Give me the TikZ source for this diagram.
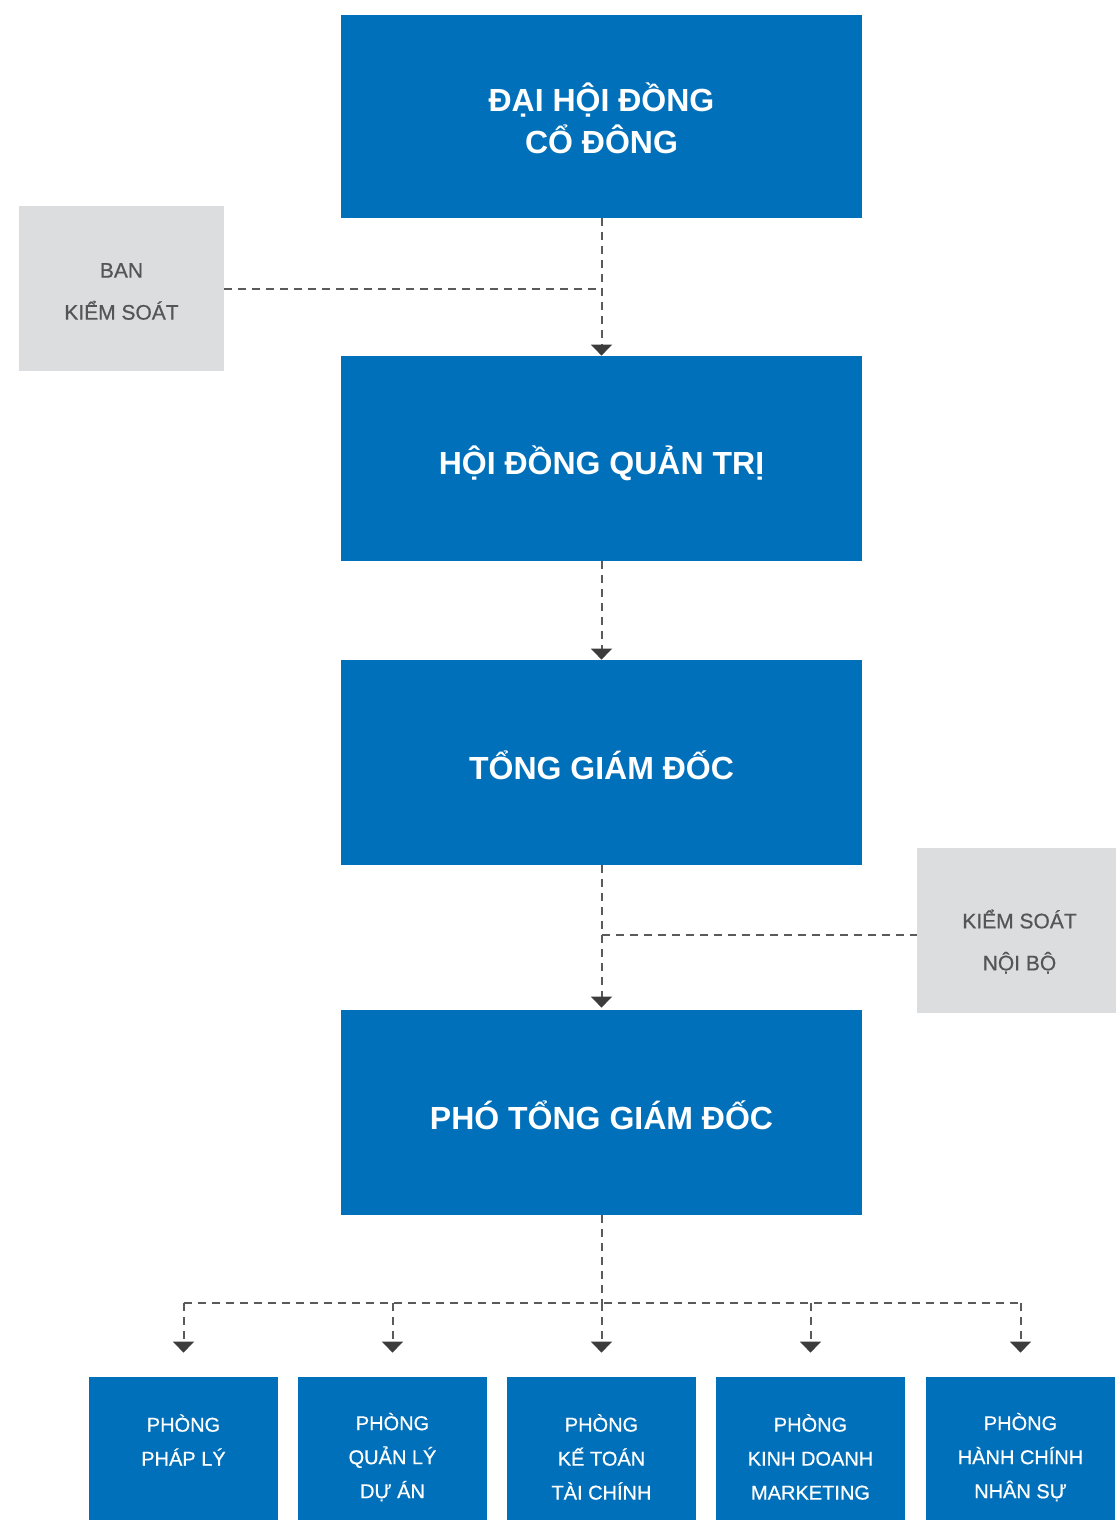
\documentclass[tikz,border=0pt]{standalone}
\usepackage{fontspec}
\setmainfont{Liberation Sans}
\newfontfamily\medfont[FakeBold=0.6]{Liberation Sans}
\usetikzlibrary{arrows.meta}
\definecolor{boxblue}{HTML}{0070BA}
\definecolor{boxgrey}{HTML}{DCDDDF}
\definecolor{greytext}{HTML}{555555}
\definecolor{linegrey}{HTML}{5A5A5A}
\definecolor{tipgrey}{HTML}{3C3C3C}
\begin{document}
\begin{tikzpicture}[x=0.5pt,y=-0.5pt,
  bigbox/.style={fill=boxblue, inner sep=0pt, minimum width=260.5pt, minimum height=102.5pt},
  bigtext/.style={text=white, font=\fontsize{16}{21}\selectfont\bfseries, align=center, inner sep=0pt},
  greybox/.style={fill=boxgrey, inner sep=0pt, minimum height=82.5pt},
  greytxt/.style={text=greytext, font=\medfont\fontsize{10.5}{21}\selectfont, align=center, inner sep=0pt},
  deptbox/.style={fill=boxblue, text=white, font=\medfont\fontsize{10}{17}\selectfont,
    align=center, inner sep=0pt, minimum width=94.5pt, minimum height=80pt},
  dashline/.style={draw=linegrey, line width=1pt, dash pattern=on 4pt off 3pt},
  conn/.style={dashline, -{Triangle[width=10.5pt,length=5.5pt,color=tipgrey]}},
]
\useasboundingbox (0,0) rectangle (1116,1520);

% main boxes
\node[bigbox, minimum height=101.5pt] (dh) at (601.5,116.5) {};
\node[bigtext] (dht) at ([yshift=-1pt]dh.center) {ĐẠI HỘI ĐỒNG\\CỔ ĐÔNG};
\node[bigbox] (hd) at (601.5,458.5) {};
\node[bigtext] (hdt) at ([yshift=-2.2pt]hd.center) {HỘI ĐỒNG QUẢN TRỊ};
\node[bigbox] (tg) at (601.5,762.5) {};
\node[bigtext] (tgt) at ([yshift=-1.6pt]tg.center) {TỔNG GIÁM ĐỐC};
\node[bigbox] (ptg) at (601.5,1112.5) {};
\node[bigtext] (ptgt) at ([yshift=-1.2pt]ptg.center) {PHÓ TỔNG GIÁM ĐỐC};

% side boxes
\node[greybox, minimum width=102.5pt] (bks) at (121.5,288.5) {};
\node[greytxt] (bkst) at ([yshift=-1.5pt]bks.center) {BAN\\KIỂM SOÁT};
\node[greybox, minimum width=99.5pt] (ks) at (1016.5,930.5) {};
\node[greytxt] (kst) at ([xshift=1.5pt,yshift=-5.5pt]ks.center) {KIỂM SOÁT\\NỘI BỘ};

% departments
\node[deptbox] (p1) at (183.5,1457) {PHÒNG\\PHÁP LÝ\\\mbox{}};
\node[deptbox] (p2) at (392.5,1457) {PHÒNG\\QUẢN LÝ\\DỰ ÁN};
\node[deptbox] (p3) at (601.5,1457) {PHÒNG\\KẾ TOÁN\\TÀI CHÍNH};
\node[deptbox] (p4) at (810.5,1457) {PHÒNG\\KINH DOANH\\MARKETING};
\node[deptbox] (p5) at (1020.5,1457) {PHÒNG\\HÀNH CHÍNH\\NHÂN SỰ};

% connectors
\draw[conn] (dh.south) -- (hd.north);
\coordinate (j1) at (dh.south |- bks.east);
\draw[dashline] (bks.east) -- (j1);
\draw[conn] (hd.south) -- (tg.north);
\draw[conn, shorten >=1pt] (tg.south) -- (ptg.north);
\coordinate (ksin) at ([yshift=-2.25pt]ks.west);
\coordinate (j2) at (tg.south |- ksin);
\draw[dashline] (j2) -- (ksin);

\coordinate (bus) at (601.5,1303);
\draw[dashline] (ptg.south) -- (bus);
\draw[dashline] (p1.north |- bus) -- (p5.north |- bus);
\foreach \p in {p1,p2,p3,p4,p5}
  \draw[conn, shorten >=12pt] (\p.north |- bus) -- (\p.north);
\end{tikzpicture}
\end{document}
